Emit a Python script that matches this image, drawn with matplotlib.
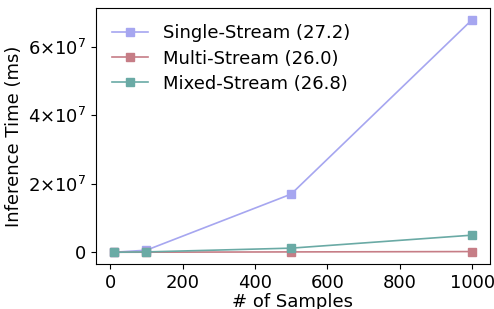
import matplotlib
matplotlib.use("Agg")
import matplotlib.pyplot as plt
from matplotlib.ticker import FuncFormatter

samples = [10, 100, 500, 1000]
single_stream = [0.0, 6.0e5, 1.7e7, 6.8e7]
multi_stream = [0.0, 2.0e4, 1.0e5, 2.0e5]
mixed_stream = [0.0, 1.0e5, 1.2e6, 5.0e6]
labels = ["Single-Stream (27.2)", "Multi-Stream (26.0)", "Mixed-Stream (26.8)"]
colors = ["#a6a6f0", "#c67d86", "#6aaaa5"]

fig = plt.figure(figsize=(4.94, 3.09), dpi=100)
ax = fig.add_axes([0.194, 0.146, 0.798, 0.828])
for ys, lab, c in zip([single_stream, multi_stream, mixed_stream], labels, colors):
    ax.plot(samples, ys, marker="s", markersize=6, color=c, label=lab, linewidth=1.2)

def fmt(v, pos):
    if v == 0:
        return "0"
    m = v / 1e7
    return r"$%d{\times}10^{7}$" % round(m)

ax.yaxis.set_major_formatter(FuncFormatter(fmt))
ax.set_yticks([0, 2e7, 4e7, 6e7])
ax.set_xticks([0, 200, 400, 600, 800, 1000])
ax.tick_params(labelsize=13)
ax.set_xlabel("# of Samples", fontsize=13, labelpad=1)
ax.set_ylabel("Inference Time (ms)", fontsize=13, labelpad=3)
ax.legend(fontsize=13, frameon=False, loc="upper left", labelspacing=0.4)
fig.savefig("out.png", dpi=100)
